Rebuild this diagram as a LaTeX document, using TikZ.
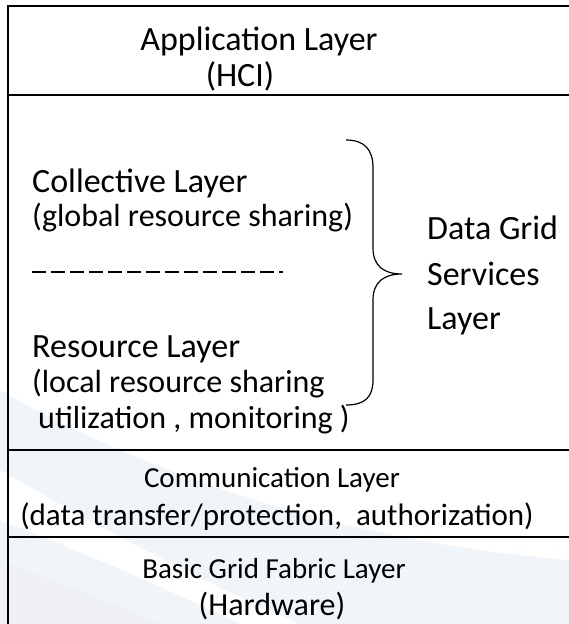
\documentclass[tikz,border=0pt]{standalone}
\usepackage{fontspec}
\setmainfont{Carlito}
\definecolor{bgblue}{RGB}{240,245,250}
\definecolor{bggray}{RGB}{238,240,243}
\begin{document}
\begin{tikzpicture}[x=1pt,y=-1pt,
  big/.style={inner sep=0pt, font=\fontsize{34}{40}\selectfont},
  small/.style={inner sep=0pt, font=\fontsize{32}{38}\selectfont},
  lowbig/.style={inner sep=0pt, font=\fontsize{29}{35}\selectfont},
  lowsmall/.style={inner sep=0pt, font=\fontsize{31}{37}\selectfont},
  rule/.style={line width=1.6pt, black},
  brace/.style={line width=1.2pt, black}]
\useasboundingbox (0,0) rectangle (569,624);
% faint background swoosh
\fill[bgblue] (0,390) .. controls (140,470) and (330,540) .. (569,560) -- (569,624) -- (0,624) -- cycle;
\fill[white] (0,470) .. controls (120,540) and (220,590) .. (300,624) -- (240,624) .. controls (170,590) and (90,555) .. (0,520) -- cycle;
\fill[bggray] (0,560) .. controls (60,585) and (120,605) .. (160,624) -- (0,624) -- cycle;
% frame
\coordinate (tl) at (8,6);
\coordinate (tr) at (569,6);
\coordinate (bl) at (8,624);
\coordinate (a1) at (8,95);  \coordinate (b1) at (569,95);
\coordinate (a2) at (8,450); \coordinate (b2) at (569,450);
\coordinate (a3) at (8,537); \coordinate (b3) at (569,537);
\draw[rule] (tr) -- (tl) -- (bl);
\draw[rule] (a1) -- (b1);
\draw[rule] (a2) -- (b2);
\draw[rule] (a3) -- (b3);
% application layer
\node[big, anchor=base] (app) at (259,50) {Application Layer};
\node[big, anchor=base] (hci) at (240,86) {(HCI)};
% collective / resource
\node[big, anchor=base west] (coll) at (32,192) {Collective Layer};
\node[small, anchor=base west] (collsub) at (32,226) {(global resource sharing)};
\coordinate (d1) at (32,272);
\coordinate (d2) at (283,272);
\draw[line width=1.3pt, dash pattern=on 14pt off 5pt] (d1) -- (d2);
\node[big, anchor=base west] (res) at (32,357) {Resource Layer};
\node[small, anchor=base west] (ressub1) at (32,392) {(local resource sharing};
\node[small, anchor=base west] (ressub2) at (38,428) {utilization , monitoring )};
% brace
\coordinate (bt) at (346,140);
\coordinate (tip) at (402,274);
\coordinate (bb) at (346,405);
\draw[brace] (bt) .. controls (365,140) and (373,150) .. (373,168) -- (373,248)
  .. controls (373,266) and (384,274) .. (tip)
  .. controls (384,274) and (373,282) .. (373,300) -- (373,380)
  .. controls (373,397) and (365,405) .. (bb);
\node[big, anchor=base west] (dg1) at (427,239) {Data Grid};
\node[big, anchor=base west] (dg2) at (427,285) {Services};
\node[big, anchor=base west] (dg3) at (427,329) {Layer};
% communication
\node[lowbig, anchor=base] (comm) at (272,487) {Communication Layer};
\node[lowsmall, anchor=base] (commsub) at (277,525) {(data transfer/protection,\ \ authorization)};
% fabric
\node[lowbig, anchor=base] (fab) at (274,578) {Basic Grid Fabric Layer};
\node[small, anchor=base] (fabsub) at (272,615) {(Hardware)};
\end{tikzpicture}
\end{document}
